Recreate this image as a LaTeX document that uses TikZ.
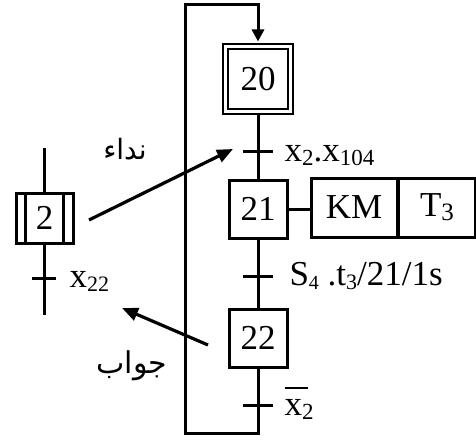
\documentclass[tikz,border=0pt]{standalone}
\usepackage{fontspec}
\setmainfont{Liberation Serif}
\newfontfamily\arabicfont[Script=Arabic]{DejaVu Sans}
\TeXXeTstate=1
\usetikzlibrary{arrows.meta}
\newcommand\sbx[2][23]{\raisebox{-4pt}{\fontsize{#1}{#1}\selectfont #2}}
\newcommand\ovx{\leavevmode\rlap{\raisebox{26pt}{\rule{23pt}{2pt}}}x}
\begin{document}
\begin{tikzpicture}[x=1pt,y=-1pt,line width=3pt,
  big/.style={font=\fontsize{35}{35}\selectfont},
  stepbox/.style={draw,big,minimum width=58pt,minimum height=58pt,inner sep=0pt},
  initbox/.style={stepbox,double,double distance=2.2pt,line width=2.8pt,minimum width=65pt,minimum height=65pt},
  actbox/.style={draw,big,minimum height=59pt,inner sep=0pt},
  lbl/.style={anchor=base west,inner sep=0pt,big},
  arlbl/.style={inner sep=0pt,font=\arabicfont\fontsize{#1}{#1}\selectfont},
  tk/.style={line width=3pt},
  arr/.style={line width=3.2pt,-{Triangle[length=16pt,width=13pt]}}]
\useasboundingbox (0,0) rectangle (476,441);
% main chart
\node[initbox] (s20) at (258,79) {20};
\node[stepbox] (s21) at (258,209) {21};
\node[stepbox] (s22) at (258,338) {22};
\node[actbox,minimum width=86pt] (km) at (354,207.5) {KM};
\node[actbox,minimum width=77pt,anchor=west] (t3) at ([xshift=-1.5pt]km.east) {T\sbx[25]{3}};
\coordinate (t1) at (258,151);
\coordinate (t2) at (258,276);
\coordinate (t3c) at (258,405);
\coordinate (lb) at (185,433);
\coordinate (lt) at (185,5);
\draw (s20.south) -- (s21.north);
\draw (s21.south) -- (s22.north);
\draw (s21.east) -- (s21.east -| km.west);
\draw[-{Triangle[length=12pt,width=12pt]},shorten >=3.6pt,line join=miter]
  (s22.south) -- (s22.south |- lb) -- (lb) -- (lt) -- (lt -| s20.north) -- (s20.north);
\draw[tk] ([xshift=-15pt]t1) -- ([xshift=15pt]t1);
\draw[tk] ([xshift=-15pt]t2) -- ([xshift=15pt]t2);
\draw[tk] ([xshift=-15pt]t3c) -- ([xshift=15pt]t3c);
\node[lbl] (l1) at (283,161) {x\sbx{2}.x\sbx{104}};
\node[lbl] (l2) at (288,285) {S\sbx[20]{4} .t\sbx[22]{3}/21/1s};
\node[lbl] (l3) at (283,415) {\ovx\sbx{2}};
% left chart
\node[draw,big,minimum width=57pt,minimum height=50pt,inner sep=0pt] (s2) at (44.5,218) {2};
\draw ([xshift=-19.5pt]s2.north) -- ([xshift=-19.5pt]s2.south);
\draw ([xshift=18.5pt]s2.north) -- ([xshift=18.5pt]s2.south);
\coordinate (ltop) at (44,148);
\coordinate (lbot) at (44,315);
\coordinate (t4) at (44,278);
\draw (ltop) -- (ltop |- s2.north);
\draw (lbot |- s2.south) -- (lbot);
\draw[tk] ([xshift=-12pt]t4) -- ([xshift=12pt]t4);
\node[lbl] (l4) at (68,287) {x\sbx[22]{22}};
% communication arrows
\coordinate (a1s) at (89,220);
\coordinate (a1e) at (233,149);
\coordinate (a2s) at (208,345);
\coordinate (a2e) at (122,308);
\draw[arr] (a1s) -- (a1e);
\draw[arr] (a2s) -- (a2e);
\node[arlbl=28] (n1) at (125,149) {\beginR نداء\endR};
\node[arlbl=30] (n2) at (132,366) {\beginR جواب\endR};
\end{tikzpicture}
\end{document}
